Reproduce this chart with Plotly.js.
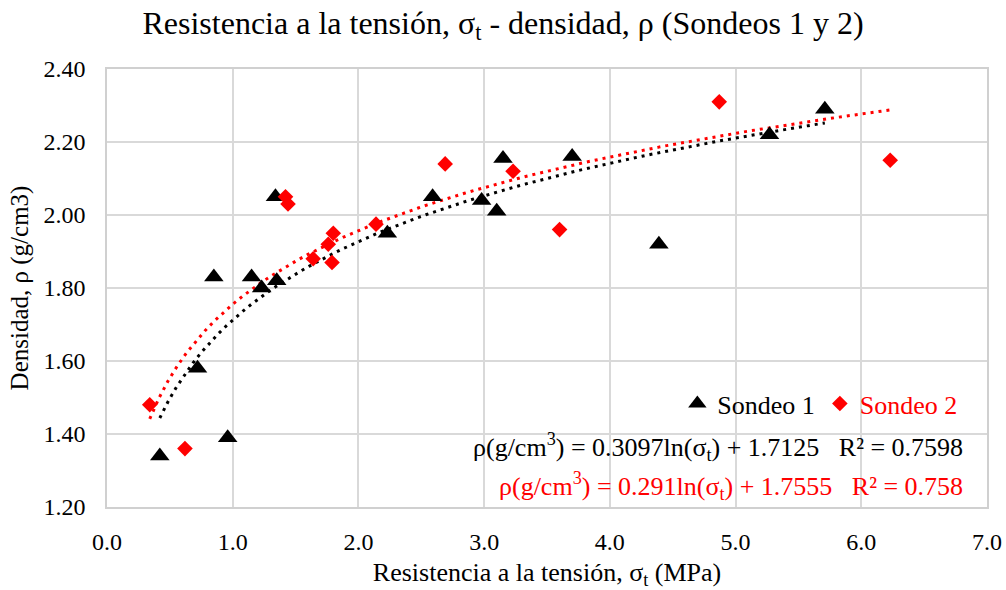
<!DOCTYPE html>
<html>
<head>
<meta charset="utf-8">
<script src="https://cdn.plot.ly/plotly-3.0.1.min.js"></script>
<style>html,body{margin:0;padding:0;background:#fff;}#chart{width:1006px;height:590px;}</style>
</head>
<body>
<div id="chart"></div>
<script>
// Sondeo 1 (triangles)
var s1X = [0.42, 0.96, 0.72, 0.85, 1.15, 1.23, 1.35, 1.34, 2.23, 2.59, 2.98, 3.10, 3.15, 3.70, 4.39, 5.27, 5.71];
var s1Y = [1.34, 1.39, 1.58, 1.83, 1.83, 1.80, 1.82, 2.05, 1.95, 2.05, 2.04, 2.01, 2.155, 2.16, 1.92, 2.22, 2.29];
// Sondeo 2 (diamonds)
var s2X = [0.34, 0.62, 1.42, 1.44, 1.64, 1.76, 1.80, 1.79, 2.14, 2.69, 3.23, 3.60, 4.87, 6.23];
var s2Y = [1.48, 1.36, 2.05, 2.03, 1.88, 1.92, 1.95, 1.87, 1.975, 2.14, 2.12, 1.96, 2.31, 2.15];
// Logarithmic trend coefficients (from the chart's equations)
var trend1 = {a: 0.3097, b: 1.7125};
var trend2 = {a: 0.291, b: 1.7555};
// Tick labels
var xTickVals = [0, 1, 2, 3, 4, 5, 6, 7];
var xTickText = ['0.0', '1.0', '2.0', '3.0', '4.0', '5.0', '6.0', '7.0'];
var yTickVals = [1.2, 1.4, 1.6, 1.8, 2.0, 2.2, 2.4];
var yTickText = ['1.20', '1.40', '1.60', '1.80', '2.00', '2.20', '2.40'];

function trendLine(xs, c) {
  var lo = Math.min.apply(null, xs), hi = Math.max.apply(null, xs);
  var tx = [], ty = [], n = 80;
  for (var i = 0; i <= n; i++) {
    var x = lo + (hi - lo) * i / n;
    tx.push(x); ty.push(c.a * Math.log(x) + c.b);
  }
  return {x: tx, y: ty};
}
var t1 = trendLine(s1X, trend1);
var t2 = trendLine(s2X, trend2);
var FONT = 'Liberation Serif';

var data = [
  {x: t2.x, y: t2.y, type: 'scatter', mode: 'lines', showlegend: false, hoverinfo: 'skip',
   line: {color: '#ff0000', width: 3, dash: '3px,5px'}},
  {x: t1.x, y: t1.y, type: 'scatter', mode: 'lines', showlegend: false, hoverinfo: 'skip',
   line: {color: '#000000', width: 3, dash: '3px,5px'}},
  {x: s1X, y: s1Y, type: 'scatter', mode: 'markers', name: 'Sondeo 1',
   marker: {symbol: 'triangle-up', size: 17, color: '#000000'}},
  {x: s2X, y: s2Y, type: 'scatter', mode: 'markers', name: '<span style="color:#ff0000">Sondeo 2</span>',
   marker: {symbol: 'diamond', size: 12, color: '#ff0000'}}
];

var layout = {
  width: 1006, height: 590,
  margin: {l: 107, r: 19, t: 69, b: 83},
  paper_bgcolor: '#ffffff', plot_bgcolor: '#ffffff',
  font: {family: FONT, color: '#000000', size: 24},
  title: {text: 'Resistencia a la tensión, σ<sub>t</sub> - densidad, ρ (Sondeos 1 y 2)',
          font: {family: FONT, size: 32, color: '#000000'}, x: 0.5, xanchor: 'center', y: 0.962, yanchor: 'middle'},
  xaxis: {range: [0, 7], tickvals: xTickVals, ticktext: xTickText, showgrid: true,
          gridcolor: '#d9d9d9', gridwidth: 1.5, zeroline: false, showline: true, linecolor: '#d0d0d0', linewidth: 1.5,
          mirror: true, ticks: '', tickfont: {family: FONT, size: 24}, ticklabelstandoff: 12,
          title: {text: 'Resistencia a la tensión, σ<sub>t</sub> (MPa)', font: {family: FONT, size: 26}, standoff: 10}},
  yaxis: {range: [1.2, 2.4], tickvals: yTickVals, ticktext: yTickText, showgrid: true,
          gridcolor: '#d9d9d9', gridwidth: 1.5, zeroline: false, showline: true, linecolor: '#d0d0d0', linewidth: 1.5,
          mirror: true, ticks: '', tickfont: {family: FONT, size: 24}, ticklabelstandoff: 15,
          title: {text: 'Densidad, ρ (g/cm3)', font: {family: FONT, size: 25}, standoff: 8}},
  showlegend: true,
  legend: {orientation: 'h', x: 0.972, xanchor: 'right', y: 0.236, yanchor: 'middle',
           font: {family: FONT, size: 26, color: '#000000'}, bgcolor: 'rgba(0,0,0,0)', itemwidth: 30, tracegroupgap: 0},
  annotations: [
    {xref: 'paper', yref: 'paper', x: 0.975, y: 0.1377, xanchor: 'right', yanchor: 'middle', showarrow: false,
     text: 'ρ(g/cm<sup>3</sup>) = 0.3097ln(σ<sub>t</sub>) + 1.7125\u00A0\u00A0\u00A0R² = 0.7598',
     font: {family: FONT, size: 26, color: '#000000'}},
    {xref: 'paper', yref: 'paper', x: 0.975, y: 0.0486, xanchor: 'right', yanchor: 'middle', showarrow: false,
     text: 'ρ(g/cm<sup>3</sup>) = 0.291ln(σ<sub>t</sub>) + 1.7555\u00A0\u00A0\u00A0R² = 0.758',
     font: {family: FONT, size: 26, color: '#ff0000'}}
  ]
};

Plotly.newPlot('chart', data, layout, {displayModeBar: false, responsive: false});
</script>
</body>
</html>
